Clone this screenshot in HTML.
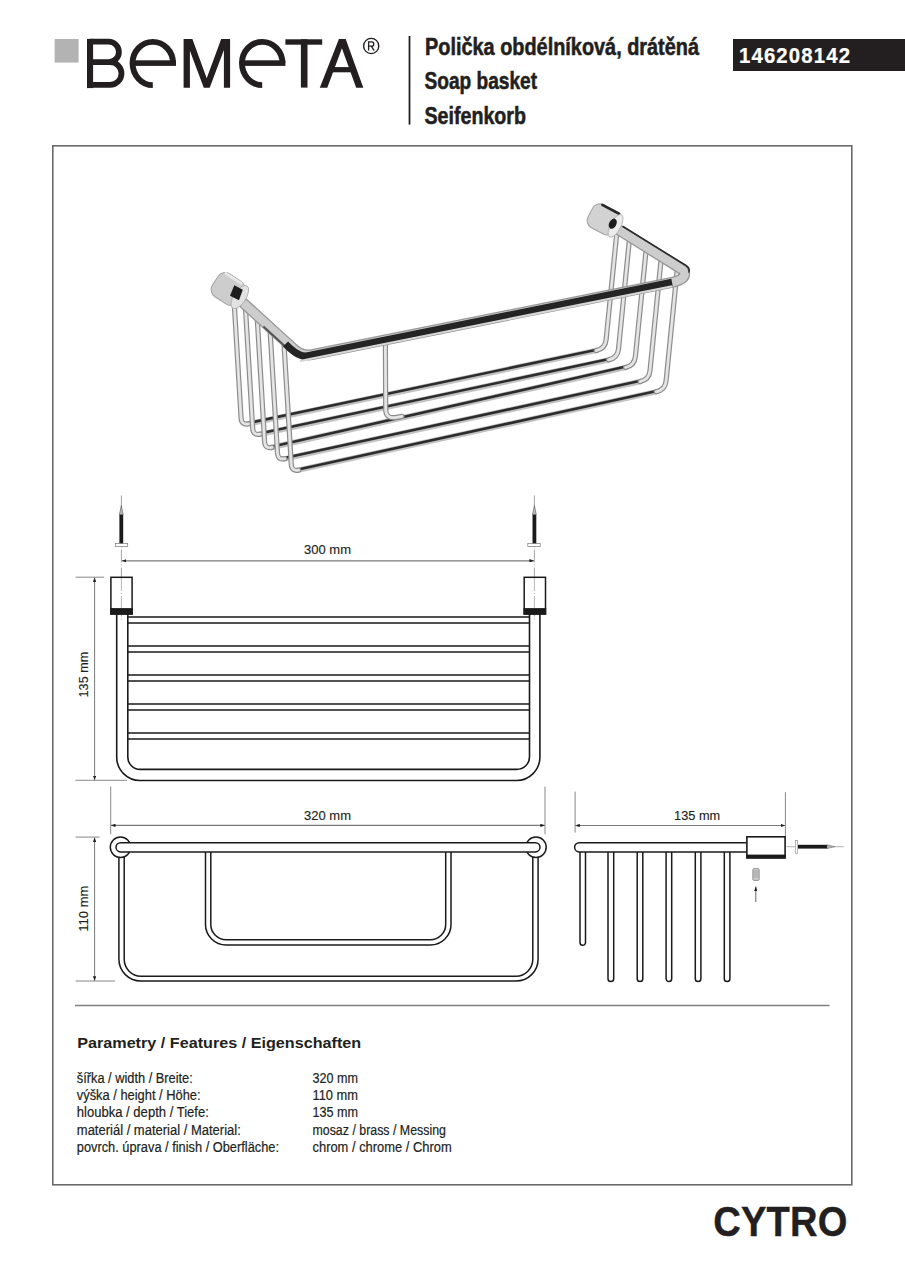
<!DOCTYPE html>
<html><head><meta charset="utf-8"><title>Bemeta Cytro 146208142</title>
<style>
html,body{margin:0;padding:0;background:#fff;}
body{width:905px;height:1280px;overflow:hidden;position:relative;}
svg{position:absolute;left:0;top:0;display:block;}
text{font-family:"Liberation Sans",sans-serif;}
</style></head>
<body>
<svg width="905" height="1280" viewBox="0 0 905 1280">
<!-- LOGO -->
<g id="logo" fill="#231f20">
<rect x="54.6" y="39" width="24" height="23.6" fill="#b3b3b3"/>
<!-- B -->
<rect x="87" y="38.9" width="6.1" height="49.2"/>
<path d="M90 41.7 H108.7 A10.2 10.2 0 0 1 108.7 62.1 H90 M90 62.1 H110.1 A11.375 11.375 0 0 1 110.1 84.85 H90" fill="none" stroke="#231f20" stroke-width="5.8"/>
<!-- e -->
<path d="M173.05 63.1 A20.25 21.2 0 0 0 132.55 63.1 A20.25 22.05 0 0 0 152.8 85.15" fill="none" stroke="#231f20" stroke-width="5.9"/>
<rect x="131" y="60.3" width="45" height="5.6"/>
<!-- M -->
<polygon points="183.6,87.8 183.6,38.95 192.4,38.95 206.7,78.2 221.2,38.95 230.1,38.95 230.1,87.8 223.9,87.8 223.9,50.1 209.7,87.8 203.8,87.8 189.9,50.7 189.9,87.8"/>
<!-- e2 -->
<path d="M282.45 63.1 A20.25 21.2 0 0 0 241.95 63.1 A20.25 22.05 0 0 0 262.2 85.15" fill="none" stroke="#231f20" stroke-width="5.9"/>
<rect x="240.4" y="60.3" width="45" height="5.6"/>
<!-- T -->
<rect x="285.4" y="39.3" width="36.8" height="5.4"/>
<rect x="300.9" y="39.3" width="6.6" height="48.3"/>
<!-- A -->
<polygon points="319.8,87.7 338.9,39.1 345.7,39.1 363.3,87.7 356.2,87.7 341.9,48.2 327.3,87.7"/>
<rect x="328" y="67.1" width="28" height="5.2"/>
<!-- (R) -->
<circle cx="371.2" cy="46" r="7.6" fill="none" stroke="#231f20" stroke-width="1.4"/>
<path d="M368.6 50.6 V41.8 H371.6 A2.2 2.2 0 0 1 371.6 46.2 H368.6 M371.3 46.2 L374.2 50.6" fill="none" stroke="#231f20" stroke-width="1.3"/>
</g>
<!-- divider -->
<rect x="408.6" y="36" width="1.8" height="88.6" fill="#231f20"/>
<!-- titles -->
<g font-weight="bold" fill="#231f20" font-size="23" stroke="#231f20" stroke-width="0.55">
<text x="425" y="54.75" textLength="274" lengthAdjust="spacingAndGlyphs">Polička obdélníková, drátěná</text>
<text x="424.5" y="89.2" textLength="112.5" lengthAdjust="spacingAndGlyphs">Soap basket</text>
<text x="424.5" y="124" textLength="101.5" lengthAdjust="spacingAndGlyphs">Seifenkorb</text>
</g>
<rect x="733" y="39" width="172" height="32" fill="#231f20"/>
<text transform="translate(739 63.4) scale(0.9 1)" font-size="22.6" font-weight="bold" fill="#fff" stroke="#fff" stroke-width="0.25" textLength="123.3" lengthAdjust="spacing">146208142</text>

<!-- FRAME -->
<rect x="52.8" y="145.8" width="799" height="1039" fill="none" stroke="#6a6a6a" stroke-width="1.6"/>

<!-- separator -->
<line x1="75" y1="1005.5" x2="829.5" y2="1005.5" stroke="#808080" stroke-width="1.4"/>

<!-- FEATURES -->
<text x="77.2" y="1048.3" font-size="15.3" font-weight="bold" fill="#231f20" textLength="284" lengthAdjust="spacingAndGlyphs">Parametry / Features / Eigenschaften</text>
<g font-size="13.8" fill="#231f20" stroke="#231f20" stroke-width="0.2">
<text x="76.8" y="1082.9" textLength="116" lengthAdjust="spacingAndGlyphs">šířka / width / Breite:</text>
<text x="76.8" y="1099.9" textLength="123.8" lengthAdjust="spacingAndGlyphs">výška / height / Höhe:</text>
<text x="76.8" y="1117.1" textLength="132" lengthAdjust="spacingAndGlyphs">hloubka / depth / Tiefe:</text>
<text x="76.8" y="1134.5" textLength="164" lengthAdjust="spacingAndGlyphs">materiál / material / Material:</text>
<text x="76.8" y="1151.6" textLength="202.2" lengthAdjust="spacingAndGlyphs">povrch. úprava / finish / Oberfläche:</text>
<text x="312.5" y="1082.9" textLength="45.5" lengthAdjust="spacingAndGlyphs">320 mm</text>
<text x="312.5" y="1099.9" textLength="45.5" lengthAdjust="spacingAndGlyphs">110 mm</text>
<text x="312.5" y="1117.1" textLength="45.5" lengthAdjust="spacingAndGlyphs">135 mm</text>
<text x="312.5" y="1134.5" textLength="133.4" lengthAdjust="spacingAndGlyphs">mosaz / brass / Messing</text>
<text x="312.5" y="1151.6" textLength="139.2" lengthAdjust="spacingAndGlyphs">chrom / chrome / Chrom</text>
</g>

<!-- CYTRO -->
<text transform="translate(713.2 1235.6) scale(0.88 1)" font-size="43.3" font-weight="bold" fill="#231f20" stroke="#231f20" stroke-width="0.4" textLength="152.5" lengthAdjust="spacing">CYTRO</text>

<!--DRAWINGS-->
<defs>
<marker id="arr" viewBox="0 0 4.5 3.4" refX="4.5" refY="1.7" markerWidth="4.5" markerHeight="3.4" markerUnits="userSpaceOnUse" orient="auto-start-reverse"><path d="M0 0 L4.5 1.7 L0 3.4 Z" fill="#222"/></marker>
</defs>
<g id="dims" stroke="#7a7a7a" stroke-width="1" fill="none">
<!-- centerlines front view -->
<line x1="121.4" y1="495.5" x2="121.4" y2="619.5" stroke="#8a8a8a" stroke-width="0.8" stroke-dasharray="13 2 1 2"/>
<line x1="534.4" y1="495.5" x2="534.4" y2="619.5" stroke="#8a8a8a" stroke-width="0.8" stroke-dasharray="13 2 1 2"/>
<!-- 300 dim -->
<line x1="121.9" y1="560.8" x2="533.9" y2="560.8" stroke-width="1.2" marker-start="url(#arr)" marker-end="url(#arr)"/>
<!-- 135 vertical dim -->
<line x1="75.5" y1="577.2" x2="104" y2="577.2" stroke-width="0.9"/>
<line x1="75.5" y1="780.3" x2="127" y2="780.3" stroke-width="0.9"/>
<line x1="94.6" y1="577.5" x2="94.6" y2="780" stroke-width="1" marker-start="url(#arr)" marker-end="url(#arr)"/>
<!-- 320 dim -->
<line x1="110.7" y1="786.6" x2="110.7" y2="834.2" stroke-width="0.9"/>
<line x1="545" y1="786.6" x2="545" y2="834.2" stroke-width="0.9"/>
<line x1="111" y1="825.4" x2="544.8" y2="825.4" stroke-width="1.2" marker-start="url(#arr)" marker-end="url(#arr)"/>
<!-- 110 vertical -->
<line x1="75.7" y1="837.1" x2="99.5" y2="837.1" stroke-width="0.9"/>
<line x1="75.7" y1="981" x2="115" y2="981" stroke-width="0.9"/>
<line x1="94.6" y1="837.5" x2="94.6" y2="980.8" stroke-width="1" marker-start="url(#arr)" marker-end="url(#arr)"/>
<!-- 135 depth dim -->
<line x1="575.1" y1="791.6" x2="575.1" y2="832.6" stroke-width="0.9"/>
<line x1="785.4" y1="792.2" x2="785.4" y2="836" stroke-width="0.9"/>
<line x1="575.3" y1="825.5" x2="785.2" y2="825.5" stroke-width="1.2" marker-start="url(#arr)" marker-end="url(#arr)"/>
<!-- screw centerline right -->
<line x1="786.7" y1="846.7" x2="846" y2="846.7" stroke="#9a9a9a" stroke-width="0.8" stroke-dasharray="9 3"/>
</g>
<g font-size="13.4" fill="#231f20" stroke="#231f20" stroke-width="0.15">
<text x="304.1" y="554.3" textLength="46.9" lengthAdjust="spacingAndGlyphs">300 mm</text>
<text x="304.1" y="820.2" textLength="46.9" lengthAdjust="spacingAndGlyphs">320 mm</text>
<text x="674.1" y="820.2" textLength="46" lengthAdjust="spacingAndGlyphs">135 mm</text>
<text transform="translate(87.5 697.4) rotate(-90)" textLength="45.6" lengthAdjust="spacingAndGlyphs">135 mm</text>
<text transform="translate(87.5 931.8) rotate(-90)" textLength="46.2" lengthAdjust="spacingAndGlyphs">110 mm</text>
</g>
<!-- FRONT/TOP VIEW -->
<g stroke="#1a1a1a" stroke-width="1.6" fill="none">
<path d="M116.7 614 V757 A23.3 23.5 0 0 0 140 780.5 H516.6 A23.3 23.5 0 0 0 539.9 757 V614"/>
<path d="M127.8 614 V757 A12.2 12.4 0 0 0 140 769.4 H516.6 A12.9 12.4 0 0 0 529.5 757 V614"/>
<path d="M127.8 617 H529.5 M127.8 623 H529.5 M127.8 646 H529.5 M127.8 652 H529.5 M127.8 675 H529.5 M127.8 681 H529.5 M127.8 704 H529.5 M127.8 710 H529.5 M127.8 733 H529.5 M127.8 739 H529.5"/>
<rect x="110.9" y="577.3" width="21.2" height="36.7" fill="#fff" stroke-width="1.5"/>
<rect x="524.2" y="577.3" width="21.3" height="36.7" fill="#fff" stroke-width="1.5"/>
</g>
<rect x="110.2" y="608.1" width="22.6" height="6.6" fill="#1a1a1a"/>
<rect x="523.5" y="608.1" width="22.7" height="6.6" fill="#1a1a1a"/>
<line x1="121.4" y1="578" x2="121.4" y2="608" stroke="#9a9a9a" stroke-width="0.7" stroke-dasharray="13 2 1 2"/>
<line x1="534.4" y1="578" x2="534.4" y2="608" stroke="#9a9a9a" stroke-width="0.7" stroke-dasharray="13 2 1 2"/>
<!-- screws vertical -->
<g>
<rect x="119.4" y="514.4" width="3.8" height="29.4" fill="#1a1a1a"/>
<path d="M119.4 514.6 L121.3 505.6 L123.2 514.6 Z" fill="#bbb" stroke="#555" stroke-width="0.6"/>
<rect x="115.3" y="543.6" width="12.4" height="2.9" fill="#fff" stroke="#777" stroke-width="0.7"/>
<rect x="532.5" y="514.4" width="3.8" height="29.4" fill="#1a1a1a"/>
<path d="M532.5 514.6 L534.4 505.6 L536.3 514.6 Z" fill="#bbb" stroke="#555" stroke-width="0.6"/>
<rect x="527.8" y="543.6" width="12.4" height="2.9" fill="#fff" stroke="#777" stroke-width="0.7"/>
</g>
<!-- SIDE (320) VIEW -->
<g stroke="#1a1a1a" stroke-width="1.5" fill="none">
<path d="M118.9 856 V959 A22.1 22.1 0 0 0 141 981.1 H516 A22.1 22.1 0 0 0 538.1 959 V856"/>
<path d="M124.2 856 V959 A16.8 17.2 0 0 0 141 976.2 H516 A16.8 17.2 0 0 0 532.8 959 V856"/>
<path d="M205.5 852 V924.5 A20.7 20.4 0 0 0 226.2 944.9 H430.3 A20.7 20.4 0 0 0 451 924.5 V852"/>
<path d="M210.8 852 V924.5 A15.4 15.2 0 0 0 226.2 939.7 H430.3 A15.4 15.2 0 0 0 445.7 924.5 V852"/>
<circle cx="120.5" cy="847.3" r="10.2" fill="#fff"/>
<circle cx="536" cy="847.3" r="10.2" fill="#fff"/>
<rect x="116" y="842.7" width="424" height="9.2" rx="4.6" fill="#fff"/>
</g>
<!-- DEPTH (135) VIEW -->
<g stroke="#1a1a1a" stroke-width="1.5" fill="#fff">
<path d="M580 852 V942.5 A2.75 2.75 0 0 0 585.5 942.5 V852"/>
<path d="M608 852 V978.7 A2.85 2.85 0 0 0 613.7 978.7 V852"/>
<path d="M637.2 852 V978.7 A2.8 2.8 0 0 0 642.8 978.7 V852"/>
<path d="M666.1 852 V978.7 A2.8 2.8 0 0 0 671.7 978.7 V852"/>
<path d="M695.3 852 V978.7 A2.8 2.8 0 0 0 700.9 978.7 V852"/>
<path d="M724.3 852 V978.7 A2.8 2.8 0 0 0 729.9 978.7 V852"/>
<path d="M747 842.7 H579.2 A4.6 4.6 0 0 0 579.2 851.9 H747"/>
<rect x="746.9" y="836.8" width="38.2" height="21" stroke-width="1.6"/>
</g>
<rect x="746.3" y="854.6" width="39.5" height="4" fill="#1a1a1a"/>
<!-- horizontal screw -->
<rect x="795.3" y="840.6" width="2.4" height="12.9" fill="#fff" stroke="#888" stroke-width="0.6"/>
<rect x="798" y="844.8" width="29.2" height="3.8" fill="#1a1a1a"/>
<path d="M827 844.8 L835 846.7 L827 848.6 Z" fill="#bbb" stroke="#555" stroke-width="0.5"/>
<!-- grub screw -->
<rect x="752.8" y="868.6" width="6.4" height="11.8" rx="1.2" fill="#ccc" stroke="#777" stroke-width="0.7"/>
<path d="M753.3 871 H758.7 M753.3 873 H758.7 M753.3 875 H758.7 M753.3 877 H758.7" stroke="#888" stroke-width="0.6"/>
<line x1="755.8" y1="902" x2="755.8" y2="886.5" stroke="#555" stroke-width="0.9" marker-end="url(#arr)"/>

<!--PHOTO-->
<g id="photo" fill="none" stroke-linecap="round">
<!-- horizontals -->
<path d="M248.0 423.9 L596.7 350.4 M259.6 434.3 L609.1 359.8 M271.5 447.5 L626.0 367.3 M284.4 458.8 L640.6 381.5 M298.2 470.2 L656.7 391.7" stroke="#c2c2c2" stroke-width="5.4"/>
<path d="M248.0 423.9 L596.7 350.4 M259.6 434.3 L609.1 359.8 M271.5 447.5 L626.0 367.3 M284.4 458.8 L640.6 381.5 M298.2 470.2 L656.7 391.7" stroke="#2c2c2c" stroke-width="2.6" transform="translate(0 -0.7)"/>
<!-- verticals light -->
<path d="M233.7 294.6 L241.1 418.3 Q241.5 425.3 248.5 423.8 M596.2 350.6 Q605.2 348.7 606.1 339.7 L617.2 229.0 M245.3 305.2 L252.7 428.6 Q253.1 435.6 260.1 434.1 M608.6 359.9 Q617.6 358.0 618.5 349.0 L629.7 236.8 M257.1 316.0 L264.6 441.9 Q265.0 448.9 272.0 447.4 M625.5 367.5 Q634.5 365.4 635.4 356.4 L646.4 247.2 M269.9 327.8 L277.5 453.2 Q277.9 460.2 284.9 458.7 M640.1 381.6 Q649.1 379.7 650.0 370.7 L661.4 256.6 M283.8 340.6 L291.3 464.6 Q291.7 471.6 298.7 470.1 M656.2 391.8 Q665.2 389.8 666.1 380.8 L677.5 266.6 M385.4 344 L385.7 410 Q386 418.5 395 417.6 L402 416.4" stroke="#8c8c8c" stroke-width="5.2"/>
<path d="M233.7 294.6 L241.1 418.3 Q241.5 425.3 248.5 423.8 M596.2 350.6 Q605.2 348.7 606.1 339.7 L617.2 229.0 M245.3 305.2 L252.7 428.6 Q253.1 435.6 260.1 434.1 M608.6 359.9 Q617.6 358.0 618.5 349.0 L629.7 236.8 M257.1 316.0 L264.6 441.9 Q265.0 448.9 272.0 447.4 M625.5 367.5 Q634.5 365.4 635.4 356.4 L646.4 247.2 M269.9 327.8 L277.5 453.2 Q277.9 460.2 284.9 458.7 M640.1 381.6 Q649.1 379.7 650.0 370.7 L661.4 256.6 M283.8 340.6 L291.3 464.6 Q291.7 471.6 298.7 470.1 M656.2 391.8 Q665.2 389.8 666.1 380.8 L677.5 266.6 M385.4 344 L385.7 410 Q386 418.5 395 417.6 L402 416.4" stroke="#e4e4e4" stroke-width="2.8"/>
<!-- rails -->
<path d="M239.5 299.5 L293 348.2 Q301.7 356.5 312 354.6 L672 282.3 Q689 279 683 270 L619.5 230.4" stroke="#969696" stroke-width="11" stroke-linejoin="round"/>
<path d="M239.5 299.5 L293 348.2 Q301.7 356.5 312 354.6 L672 282.3 Q689 279 683 270 L619.5 230.4" stroke="#cdcdcd" stroke-width="8.4" stroke-linejoin="round"/>
<path d="M266 323.6 L292 347.4" stroke="#555" stroke-width="2" stroke-linecap="butt" transform="translate(-2.6 2.9)"/>
<path d="M285.5 344 Q294.5 353.5 302.5 355.8 Q307 356.6 314 354.4 L672 282.2" stroke="#242424" stroke-width="7" stroke-linecap="butt"/>
<path d="M300 357.2 Q304 356.5 312 354.6 L672 282.3" stroke="#d6d6d6" stroke-width="2" transform="translate(0 3.9)" stroke-linecap="butt"/>
<path d="M623 226.5 L686 265.5 Q690 268 689 272" stroke="#2a2a2a" stroke-width="1.6"/>
<!-- caps -->
<g transform="translate(229.5 290) rotate(33)">
<rect x="-17" y="-13.6" width="30.5" height="27.2" rx="8.5" fill="#cdcdcd" stroke="#a0a0a0" stroke-width="1"/>
<path d="M-12 -12 H6" stroke="#e6e6e6" stroke-width="3"/>
<ellipse cx="12.5" cy="0.3" rx="6.2" ry="13.3" fill="#e2e2e2" stroke="#acacac" stroke-width="0.8"/>
<path d="M1.5 -6.5 L11 -7.5 L13.5 3.5 L3.5 4.5 Z" fill="#1c1c1c"/>
</g>
<g transform="translate(604.5 220) rotate(28)">
<rect x="-16" y="-13" width="29.5" height="26" rx="8" fill="#d2d2d2" stroke="#a0a0a0" stroke-width="1"/>
<path d="M-9 -12.4 H10" stroke="#2a2a2a" stroke-width="2.6"/>
<ellipse cx="12.5" cy="0" rx="5.2" ry="12.6" fill="#ececec" stroke="#acacac" stroke-width="0.8"/>
<ellipse cx="9" cy="-0.6" rx="3.6" ry="5.4" fill="#1c1c1c"/>
</g>
</g>
</svg>
</body></html>
